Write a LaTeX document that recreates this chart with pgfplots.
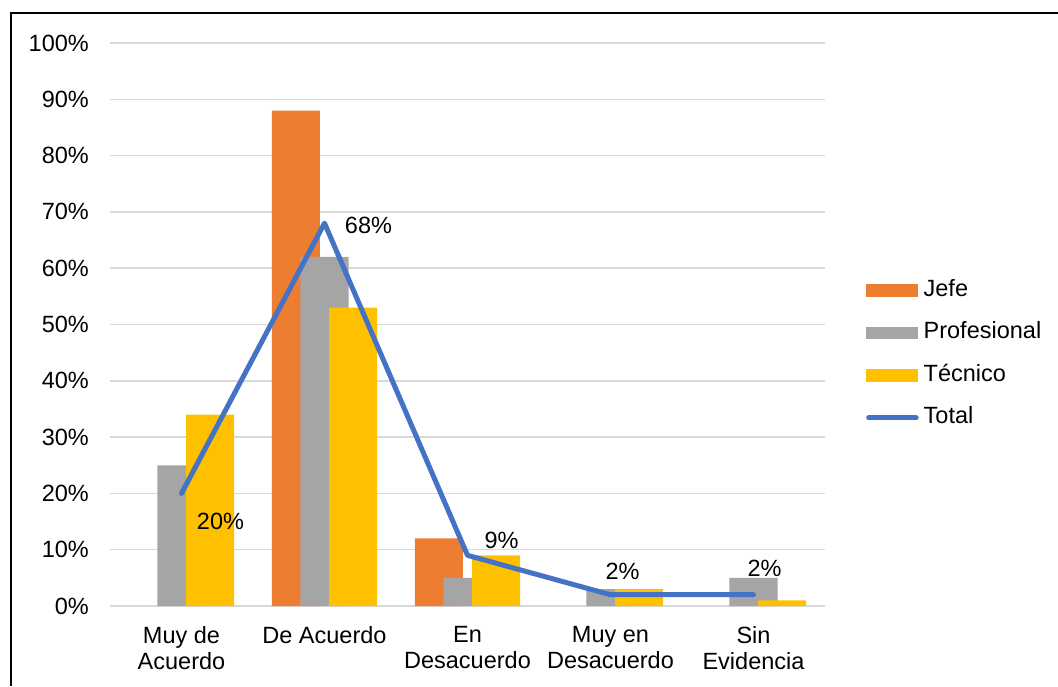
\documentclass[border=0pt]{standalone}
\usepackage{fontspec}
\setmainfont{Liberation Sans}
\usepackage{pgfplots}
\usepackage{pgfplotstable}
\pgfplotsset{compat=1.18}
\definecolor{cJefe}{HTML}{ED7D31}
\definecolor{cProf}{HTML}{A5A5A5}
\definecolor{cTec}{HTML}{FFC000}
\definecolor{cTot}{HTML}{4472C4}
\definecolor{cGrid}{HTML}{D9D9D9}

% x: 0 Muy de Acuerdo, 1 De Acuerdo, 2 En Desacuerdo, 3 Muy en Desacuerdo, 4 Sin Evidencia
\pgfplotstableread{
x jefe prof tec
0 0  25 34
1 88 62 53
2 12 5  9
3 0  3  3
4 0  5  1
}\barsdata

% total line with label offsets (pt)
\pgfplotstableread{
x total dx dy
0 20 39 -28
1 68 44 -2
2 9  34 15
3 2  12 23
4 2  11 26
}\totaldata

\begin{document}
\begin{tikzpicture}[x=1pt,y=1pt]
\useasboundingbox (0,0) rectangle (1058,686);
\draw[line width=2pt] (11,0) -- (11,673) -- (1058,673);
\begin{axis}[
  at={(110pt,80pt)}, anchor=south west,
  scale only axis, width=715pt, height=563pt,
  xmin=-0.5, xmax=4.5, ymin=0, ymax=100,
  font=\fontsize{23.5}{26.5}\selectfont,
  /pgf/number format/assume math mode=true,
  axis line style={draw=none},
  major tick length=0pt,
  ytick={0,10,...,100},
  yticklabel={\pgfmathprintnumber{\tick}\%},
  yticklabel style={anchor=east, inner sep=0pt, xshift=-21pt},
  xtick={0,1,2,3,4},
  xticklabels={{Muy de\\Acuerdo},{De Acuerdo},{En\\Desacuerdo},{Muy en\\Desacuerdo},{Sin\\Evidencia}},
  xticklabel style={align=center, anchor=north, inner sep=0pt, yshift=-20pt},
  ymajorgrids,
  grid style={cGrid, line width=1.5pt},
  unbounded coords=discard,
  legend style={at={(1.0573,0.5808)}, anchor=north west, draw=none, fill=none,
    inner sep=0pt, row sep=20pt, column sep=5pt,
    nodes={inner sep=0pt, text height=17pt, text depth=5.5pt, anchor=west}},
  legend cell align=left,
]
% empty categories get no bar at all
\pgfplotsset{skip zero/.style={y filter/.expression={y==0 ? nan : y}}}
\addplot[ybar, bar width=0.336, bar shift=-0.2, fill=cJefe, draw=none, skip zero,
  legend image code/.code={\fill[cJefe] (0pt,-6.3pt) rectangle (52pt,6.3pt);}]
  table[x=x, y=jefe] {\barsdata};
\addlegendentry{Jefe}
\addplot[ybar, bar width=0.336, bar shift=0, fill=cProf, draw=none, skip zero,
  legend image code/.code={\fill[cProf] (0pt,-6.3pt) rectangle (52pt,6.3pt);}]
  table[x=x, y=prof] {\barsdata};
\addlegendentry{Profesional}
\addplot[ybar, bar width=0.336, bar shift=0.2, fill=cTec, draw=none, skip zero,
  legend image code/.code={\fill[cTec] (0pt,-6.3pt) rectangle (52pt,6.3pt);}]
  table[x=x, y=tec] {\barsdata};
\addlegendentry{Técnico}
\addplot[sharp plot, mark=none, cTot, line width=5pt, line cap=round, line join=round,
  legend image code/.code={\draw[cTot, line width=5pt, line cap=round] (2.5pt,0pt) -- (50pt,0pt);}]
  table[x=x, y=total] {\totaldata};
\addlegendentry{Total}
\addplot[draw=none, mark=none, forget plot,
  point meta=y,
  visualization depends on={\thisrow{dx}\as\dx},
  visualization depends on={\thisrow{dy}\as\dy},
  nodes near coords={\pgfmathprintnumber{\pgfplotspointmeta}\%},
  every node near coord/.append style={anchor=center, inner sep=0pt, text=black,
    xshift=\dx pt, yshift=\dy pt}]
  table[x=x, y=total] {\totaldata};
\end{axis}
\end{tikzpicture}
\end{document}
